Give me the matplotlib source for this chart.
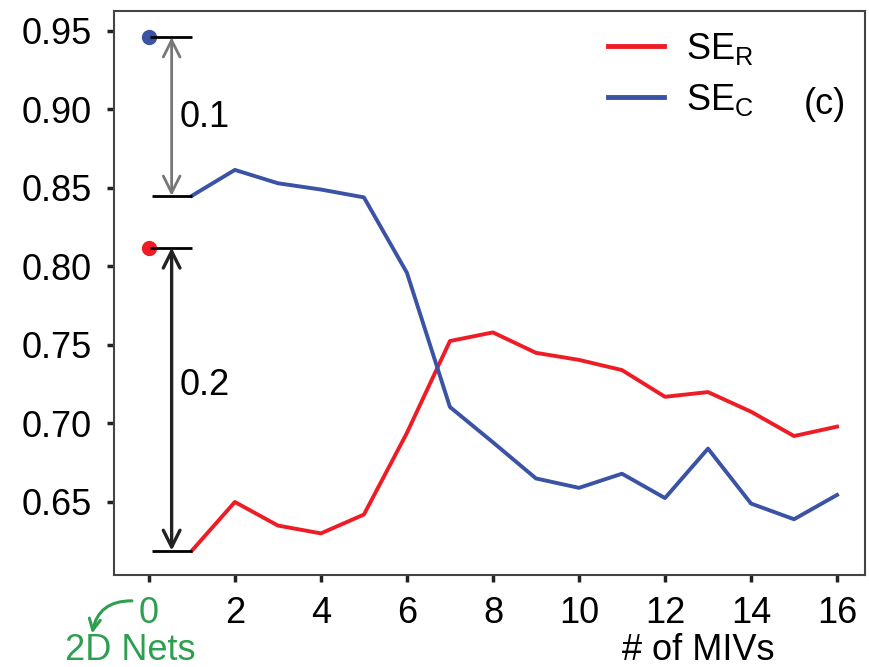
import matplotlib
matplotlib.use("Agg")
import matplotlib.pyplot as plt

plt.rcParams['font.family'] = ['Liberation Sans', 'DejaVu Sans']
plt.rcParams['mathtext.fontset'] = 'custom'
plt.rcParams['mathtext.rm'] = 'Liberation Sans'

# number of MIVs (x = 0 is the 2D nets reference)
mivs = list(range(1, 17))
se_r = [0.619, 0.650, 0.635, 0.630, 0.642, 0.694, 0.7525, 0.758,
        0.745, 0.7405, 0.734, 0.717, 0.720, 0.7075, 0.692, 0.698]
se_c = [0.845, 0.8615, 0.853, 0.849, 0.844, 0.796, 0.7105, 0.688,
        0.665, 0.659, 0.668, 0.6525, 0.684, 0.649, 0.639, 0.6545]
se_r_2d = 0.812
se_c_2d = 0.946
xticks = [0, 2, 4, 6, 8, 10, 12, 14, 16]
yticks = [0.65, 0.70, 0.75, 0.80, 0.85, 0.90, 0.95]

red = '#ee1c25'
blue = '#3a53a4'
green = '#2e9e4f'
fs = 26

fig = plt.figure(figsize=(8.69, 6.67), dpi=100)
ax = fig.add_axes([114/869, 1-575/667, (865-114)/869, (575-11)/667])

ax.plot(mivs, se_r, color=red, lw=2.8, label=r'SE$_\mathregular{R}$')
ax.plot(mivs, se_c, color=blue, lw=2.8, label=r'SE$_\mathregular{C}$')
ax.plot([0], [se_c_2d], 'o', color=blue, ms=10, clip_on=False)
ax.plot([0], [se_r_2d], 'o', color=red, ms=10, clip_on=False)

# gap markers
ax.hlines([se_c_2d, se_r_2d], 0.02, 1.0, color='black', lw=2)
ax.hlines([se_c[0], se_r[0]], 0.07, 1.0, color='black', lw=2)
ax.annotate('', xy=(0.53, se_c_2d), xytext=(0.53, se_c[0]),
            arrowprops=dict(arrowstyle='<->', color='#777777', lw=2,
                            mutation_scale=30, shrinkA=0, shrinkB=0))
ax.annotate('', xy=(0.53, se_r_2d), xytext=(0.53, se_r[0]),
            arrowprops=dict(arrowstyle='<->', color='#222222', lw=2.4,
                            mutation_scale=30, shrinkA=0, shrinkB=0))
ax.text(0.72, 0.8946, '0.1', fontsize=fs, va='center', ha='left')
ax.text(0.72, 0.724, '0.2', fontsize=fs, va='center', ha='left')

ax.set_xlim(-0.81, 16.65)
ax.set_ylim(0.6035, 0.9627)
ax.set_xticks(xticks)
ax.set_yticks(yticks)
ax.set_yticklabels(['%.2f' % v for v in yticks])
ax.tick_params(labelsize=fs, width=2.5, length=5, color='#222222')
ax.tick_params(axis='y', pad=11)
ax.tick_params(axis='x', pad=10)
ax.get_xticklabels()[0].set_color(green)
for sp in ax.spines.values():
    sp.set_color('#444444')
    sp.set_linewidth(1.5)

leg = ax.legend(loc='upper right', bbox_to_anchor=(0.895, 1.023), frameon=False,
                fontsize=fs, handlelength=1.55, handletextpad=0.6, labelspacing=0.42)
for line in leg.get_lines():
    line.set_linewidth(3.5)
ax.text(0.975, 0.835, '(c)', transform=ax.transAxes, fontsize=fs,
        ha='right', va='center')

fig.text(698/869, 1-650/667, '# of MIVs', fontsize=fs, ha='center', va='center')
fig.text(130/869, 1-650/667, '2D Nets', fontsize=fs, ha='center', va='center', color=green)
ax.annotate('', xy=(-1.33, 0.5645), xytext=(-0.33, 0.587),
            arrowprops=dict(arrowstyle='->', color=green, lw=2.2,
                            connectionstyle='arc3,rad=0.45', mutation_scale=20),
            annotation_clip=False)

fig.savefig('out.png', dpi=100)
